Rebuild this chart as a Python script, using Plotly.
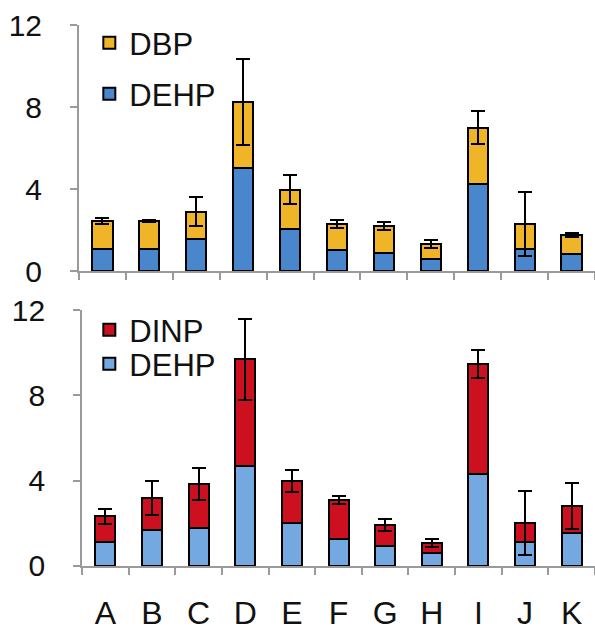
import plotly.graph_objects as go

categories = ["A", "B", "C", "D", "E", "F", "G", "H", "I", "J", "K"]

# Top panel
top_dehp = [1.08, 1.08, 1.57, 5.05, 2.06, 1.03, 0.88, 0.58, 4.27, 1.08, 0.85]
top_total = [2.45, 2.45, 2.9, 8.24, 3.97, 2.3, 2.2, 1.32, 7.0, 2.3, 1.76]
top_dbp = [t - d for t, d in zip(top_total, top_dehp)]
top_err = [0.15, 0.05, 0.7, 2.1, 0.7, 0.2, 0.2, 0.2, 0.8, 1.55, 0.1]

# Bottom panel
bot_dehp = [1.12, 1.69, 1.78, 4.69, 2.0, 1.27, 0.94, 0.61, 4.31, 1.12, 1.55]
bot_total = [2.34, 3.19, 3.84, 9.7, 3.98, 3.09, 1.92, 1.08, 9.47, 2.0, 2.81]
bot_dinp = [t - d for t, d in zip(bot_total, bot_dehp)]
bot_err = [0.35, 0.8, 0.75, 1.9, 0.5, 0.2, 0.3, 0.2, 0.65, 1.5, 1.08]

y_ticks = [0, 4, 8, 12]

C_DBP = "#F0B428"
C_DEHP_TOP = "#4A86CC"
C_DEHP_BOT = "#74A8E0"
C_DINP = "#CC1020"

fig = go.Figure()
line = dict(color="black", width=2)
err_style = dict(type="data", color="black", thickness=2, width=7)
bw = 0.43

fig.add_trace(go.Bar(x=categories, y=top_dehp, name="DEHP", marker=dict(color=C_DEHP_TOP, line=line),
                     width=bw, xaxis="x", yaxis="y", legend="legend3"))
fig.add_trace(go.Bar(x=categories, y=top_dbp, name="DBP", marker=dict(color=C_DBP, line=line),
                     width=bw, error_y=dict(array=top_err, **err_style), xaxis="x", yaxis="y",
                     legend="legend"))
fig.add_trace(go.Bar(x=categories, y=bot_dehp, name="DEHP", marker=dict(color=C_DEHP_BOT, line=line),
                     width=bw, xaxis="x2", yaxis="y2", legend="legend4"))
fig.add_trace(go.Bar(x=categories, y=bot_dinp, name="DINP", marker=dict(color=C_DINP, line=line),
                     width=bw, error_y=dict(array=bot_err, **err_style), xaxis="x2", yaxis="y2",
                     legend="legend2"))

font = "Liberation Sans, Arial, sans-serif"
axcol = "#9a9a9a"
xcommon = dict(showline=True, linecolor=axcol, linewidth=2, ticks="outside", tickson="boundaries",
               ticklen=7, tickwidth=2, tickcolor=axcol, showgrid=False, zeroline=False,
               categoryorder="array", categoryarray=categories, automargin=False)
ycommon = dict(range=[0, 12], tickvals=y_ticks, showline=True, linecolor=axcol, linewidth=2,
               ticks="outside", ticklen=7, tickwidth=2, tickcolor=axcol, showgrid=False,
               zeroline=False, tickfont=dict(size=30, color="#111", family=font),
               ticklabelstandoff=22, automargin=False)


def leg(y):
    return dict(x=0.02, y=y, xanchor="left", yanchor="middle",
                font=dict(size=31, family=font, color="#111"),
                bgcolor="rgba(0,0,0,0)", itemwidth=30)


fig.update_layout(
    width=595, height=633,
    margin=dict(l=79, r=0, t=25, b=67),
    plot_bgcolor="white", paper_bgcolor="white",
    barmode="stack",
    font=dict(family=font, color="#111"),
    xaxis=dict(domain=[0, 1], anchor="y", showticklabels=False, **xcommon),
    yaxis=dict(domain=[0.545, 1], anchor="x", **ycommon),
    xaxis2=dict(domain=[0.006, 1], anchor="y2", showticklabels=True, ticklabelstandoff=18,
                tickfont=dict(size=32, color="#111", family=font), **xcommon),
    yaxis2=dict(domain=[0, 0.473], anchor="x2", **ycommon),
    legend=leg(0.9667),
    legend3=leg(0.8725),
    legend2=leg(0.4362),
    legend4=leg(0.3734),
    showlegend=True,
)

fig.write_html("out.html", config={"displayModeBar": False},
               post_script="document.body.style.margin='0';document.body.style.padding='0';")
